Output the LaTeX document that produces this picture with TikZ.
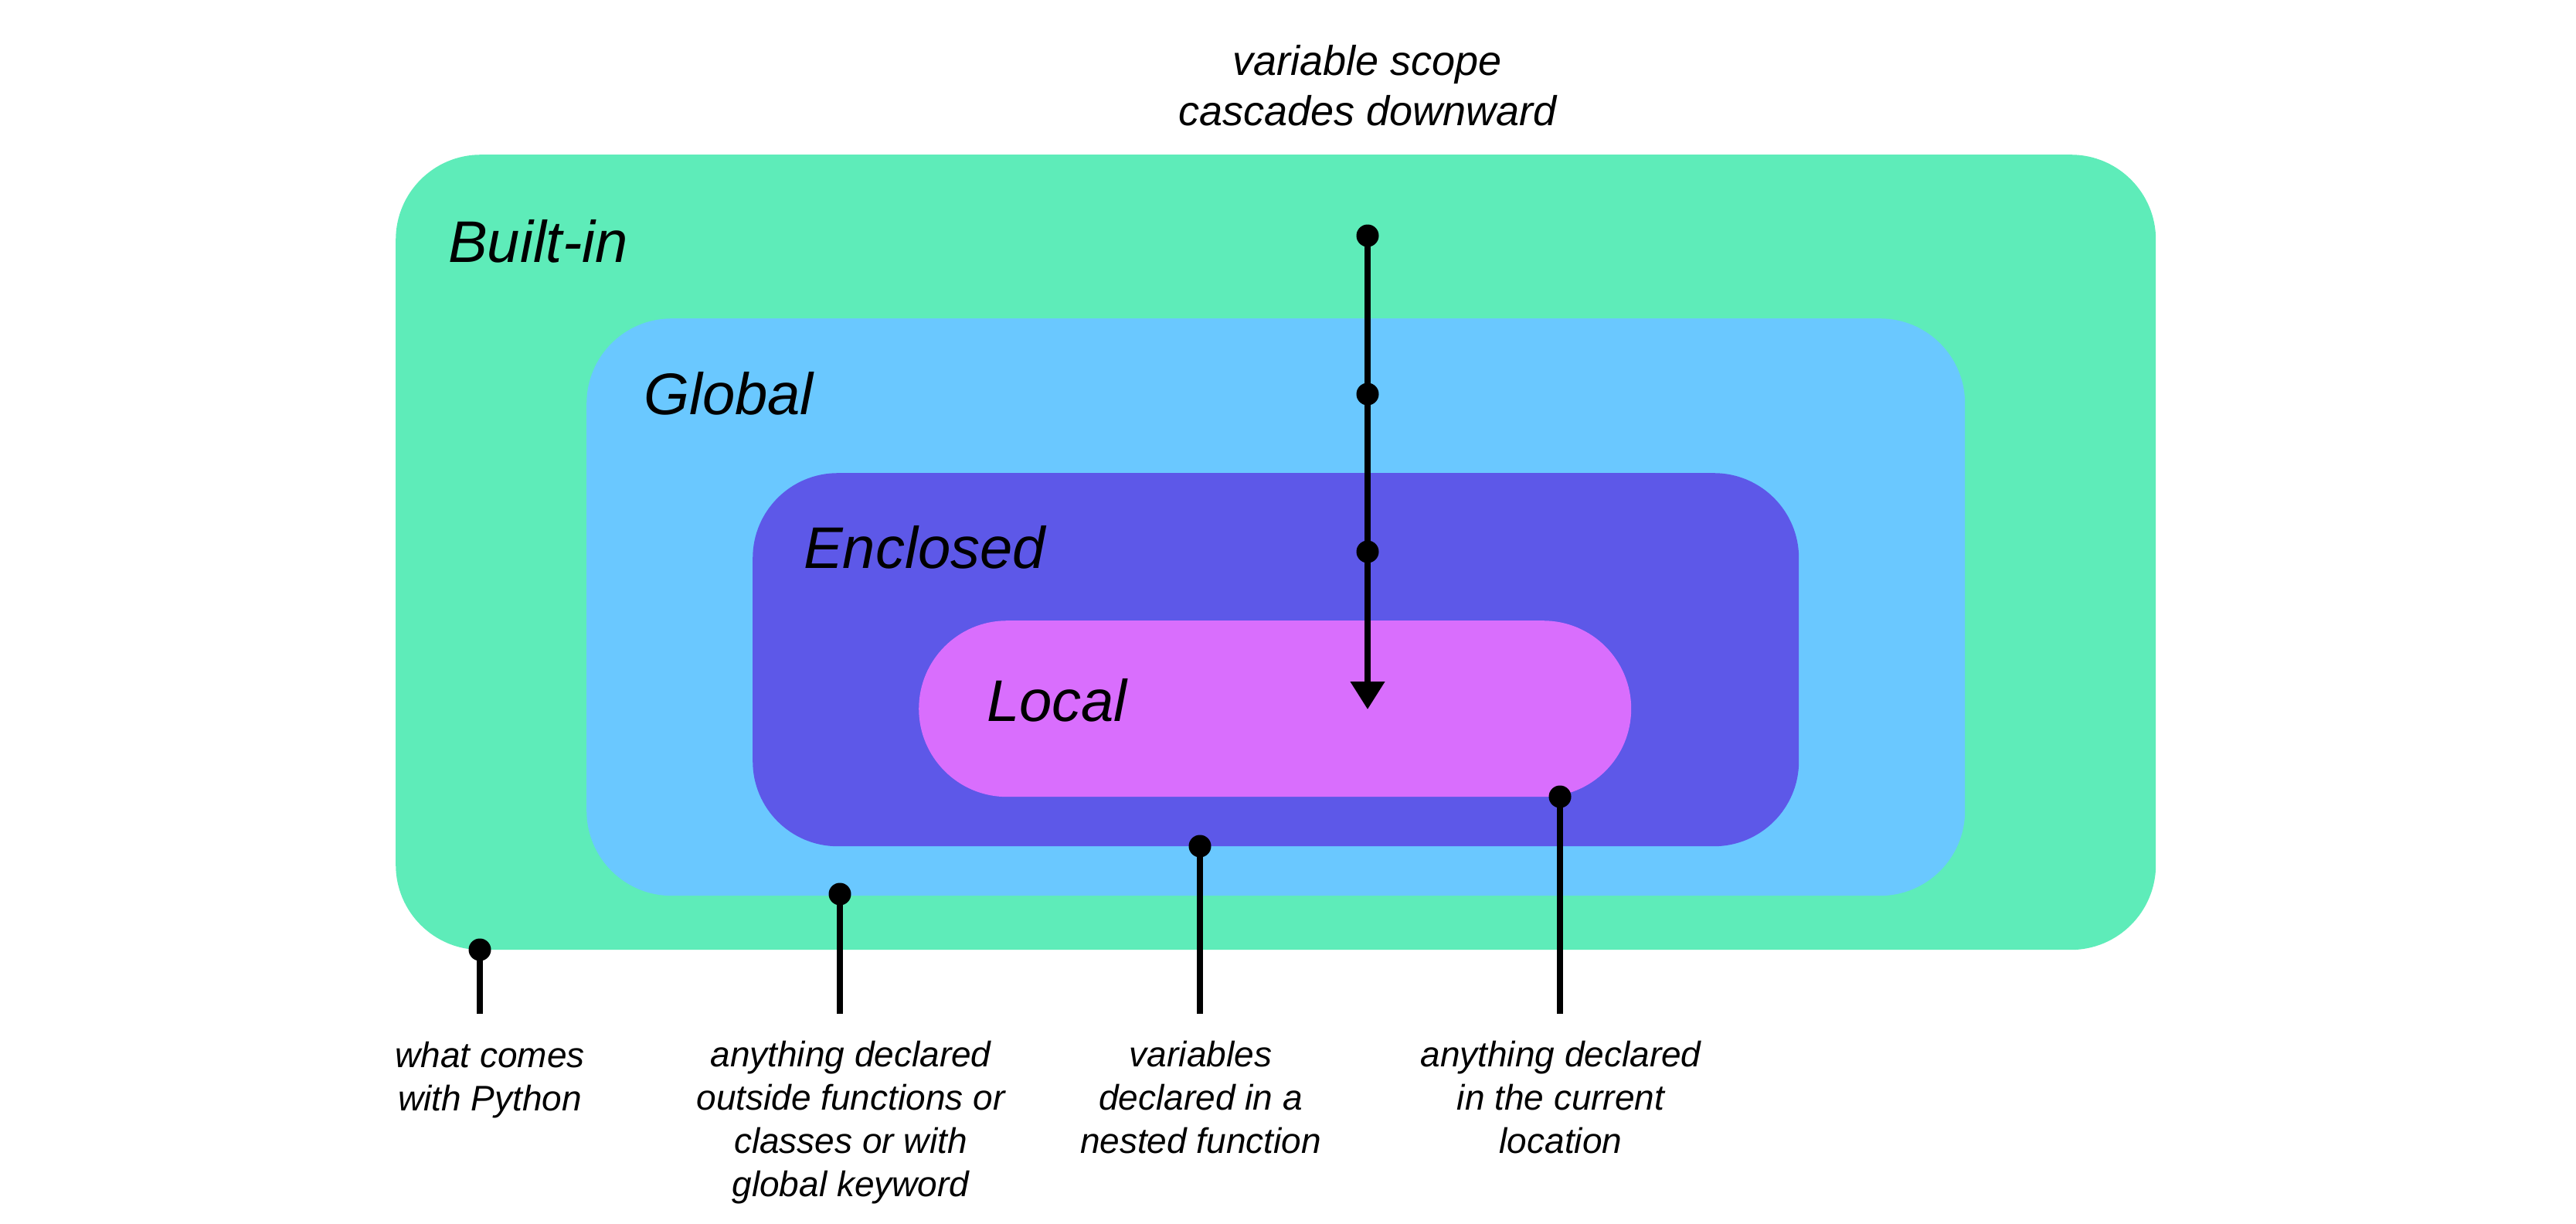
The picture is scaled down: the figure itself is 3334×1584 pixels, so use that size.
\documentclass[tikz,border=0pt]{standalone}
\usepackage{fontspec}
\setmainfont{Liberation Sans}
\usetikzlibrary{arrows.meta}
\definecolor{cgreen}{HTML}{5EECB9}
\definecolor{cblue}{HTML}{6AC8FF}
\definecolor{cpurple}{HTML}{5D58E8}
\definecolor{cpink}{HTML}{D96EFD}
\begin{document}
\begin{tikzpicture}[x=1pt,y=-1pt,
  scopebox/.style={rectangle, rounded corners=110pt, inner sep=0pt, anchor=north west},
  boxlabel/.style={anchor=base west, inner sep=0pt, font=\itshape\fontsize{76}{90}\selectfont},
  note/.style={align=center, anchor=base, inner sep=0pt, font=\itshape\fontsize{46}{56}\selectfont},
  conn/.style={line width=7.5pt},
  dotm/.style={circle, fill=black, minimum size=29pt, inner sep=0pt}]
\useasboundingbox (0,0) rectangle (3334,1584);
% scope boxes
\node[scopebox, fill=cgreen, minimum width=2278pt, minimum height=1029pt] (builtin) at (512,200) {};
\node[scopebox, fill=cblue, minimum width=1784pt, minimum height=747pt] (global) at (759,412) {};
\node[scopebox, fill=cpurple, minimum width=1354pt, minimum height=483pt] (enclosed) at (974,612) {};
\node[scopebox, fill=cpink, rounded corners=114pt, minimum width=922pt, minimum height=228pt] (local) at (1189,803) {};
% box labels
\node[boxlabel] (tbuiltin) at (580,339) {Built-in};
\node[boxlabel] (tglobal) at (833,536) {Global};
\node[boxlabel] (tenclosed) at (1040,735) {Enclosed};
\node[boxlabel] (tlocal) at (1277,933) {Local};
% cascade arrow
\node[dotm] (a1) at (1770,305) {};
\node[dotm] (a2) at (1770,510) {};
\node[dotm] (a3) at (1770,714) {};
\coordinate (atip) at (1770,918);
\draw[conn,-{Triangle[length=36pt,width=43pt]}] (a1.center) -- (atip);
\node[note, font=\itshape\fontsize{54}{65}\selectfont] (ttop) at (1770,162) {variable scope\\cascades downward};
% bottom pointers
\node[dotm] (b1) at (621,1229) {};
\node[dotm] (b2) at (1087,1157) {};
\node[dotm] (b3) at (1553,1095) {};
\node[dotm] (b4) at (2019,1031) {};
\coordinate (e1) at (621,1312);
\coordinate (e2) at (1087,1312);
\coordinate (e3) at (1553,1312);
\coordinate (e4) at (2019,1312);
\draw[conn] (b1.center) -- (e1);
\draw[conn] (b2.center) -- (e2);
\draw[conn] (b3.center) -- (e3);
\draw[conn] (b4.center) -- (e4);
% bottom notes
\node[note] (n1) at (634,1437) {what comes\\with Python};
\node[note] (n2) at (1101,1548) {anything declared\\outside functions or\\classes or with\\global keyword};
\node[note] (n3) at (1554,1492) {variables\\declared in a\\nested function};
\node[note] (n4) at (2020,1492) {anything declared\\in the current\\location};
\end{tikzpicture}
\end{document}
